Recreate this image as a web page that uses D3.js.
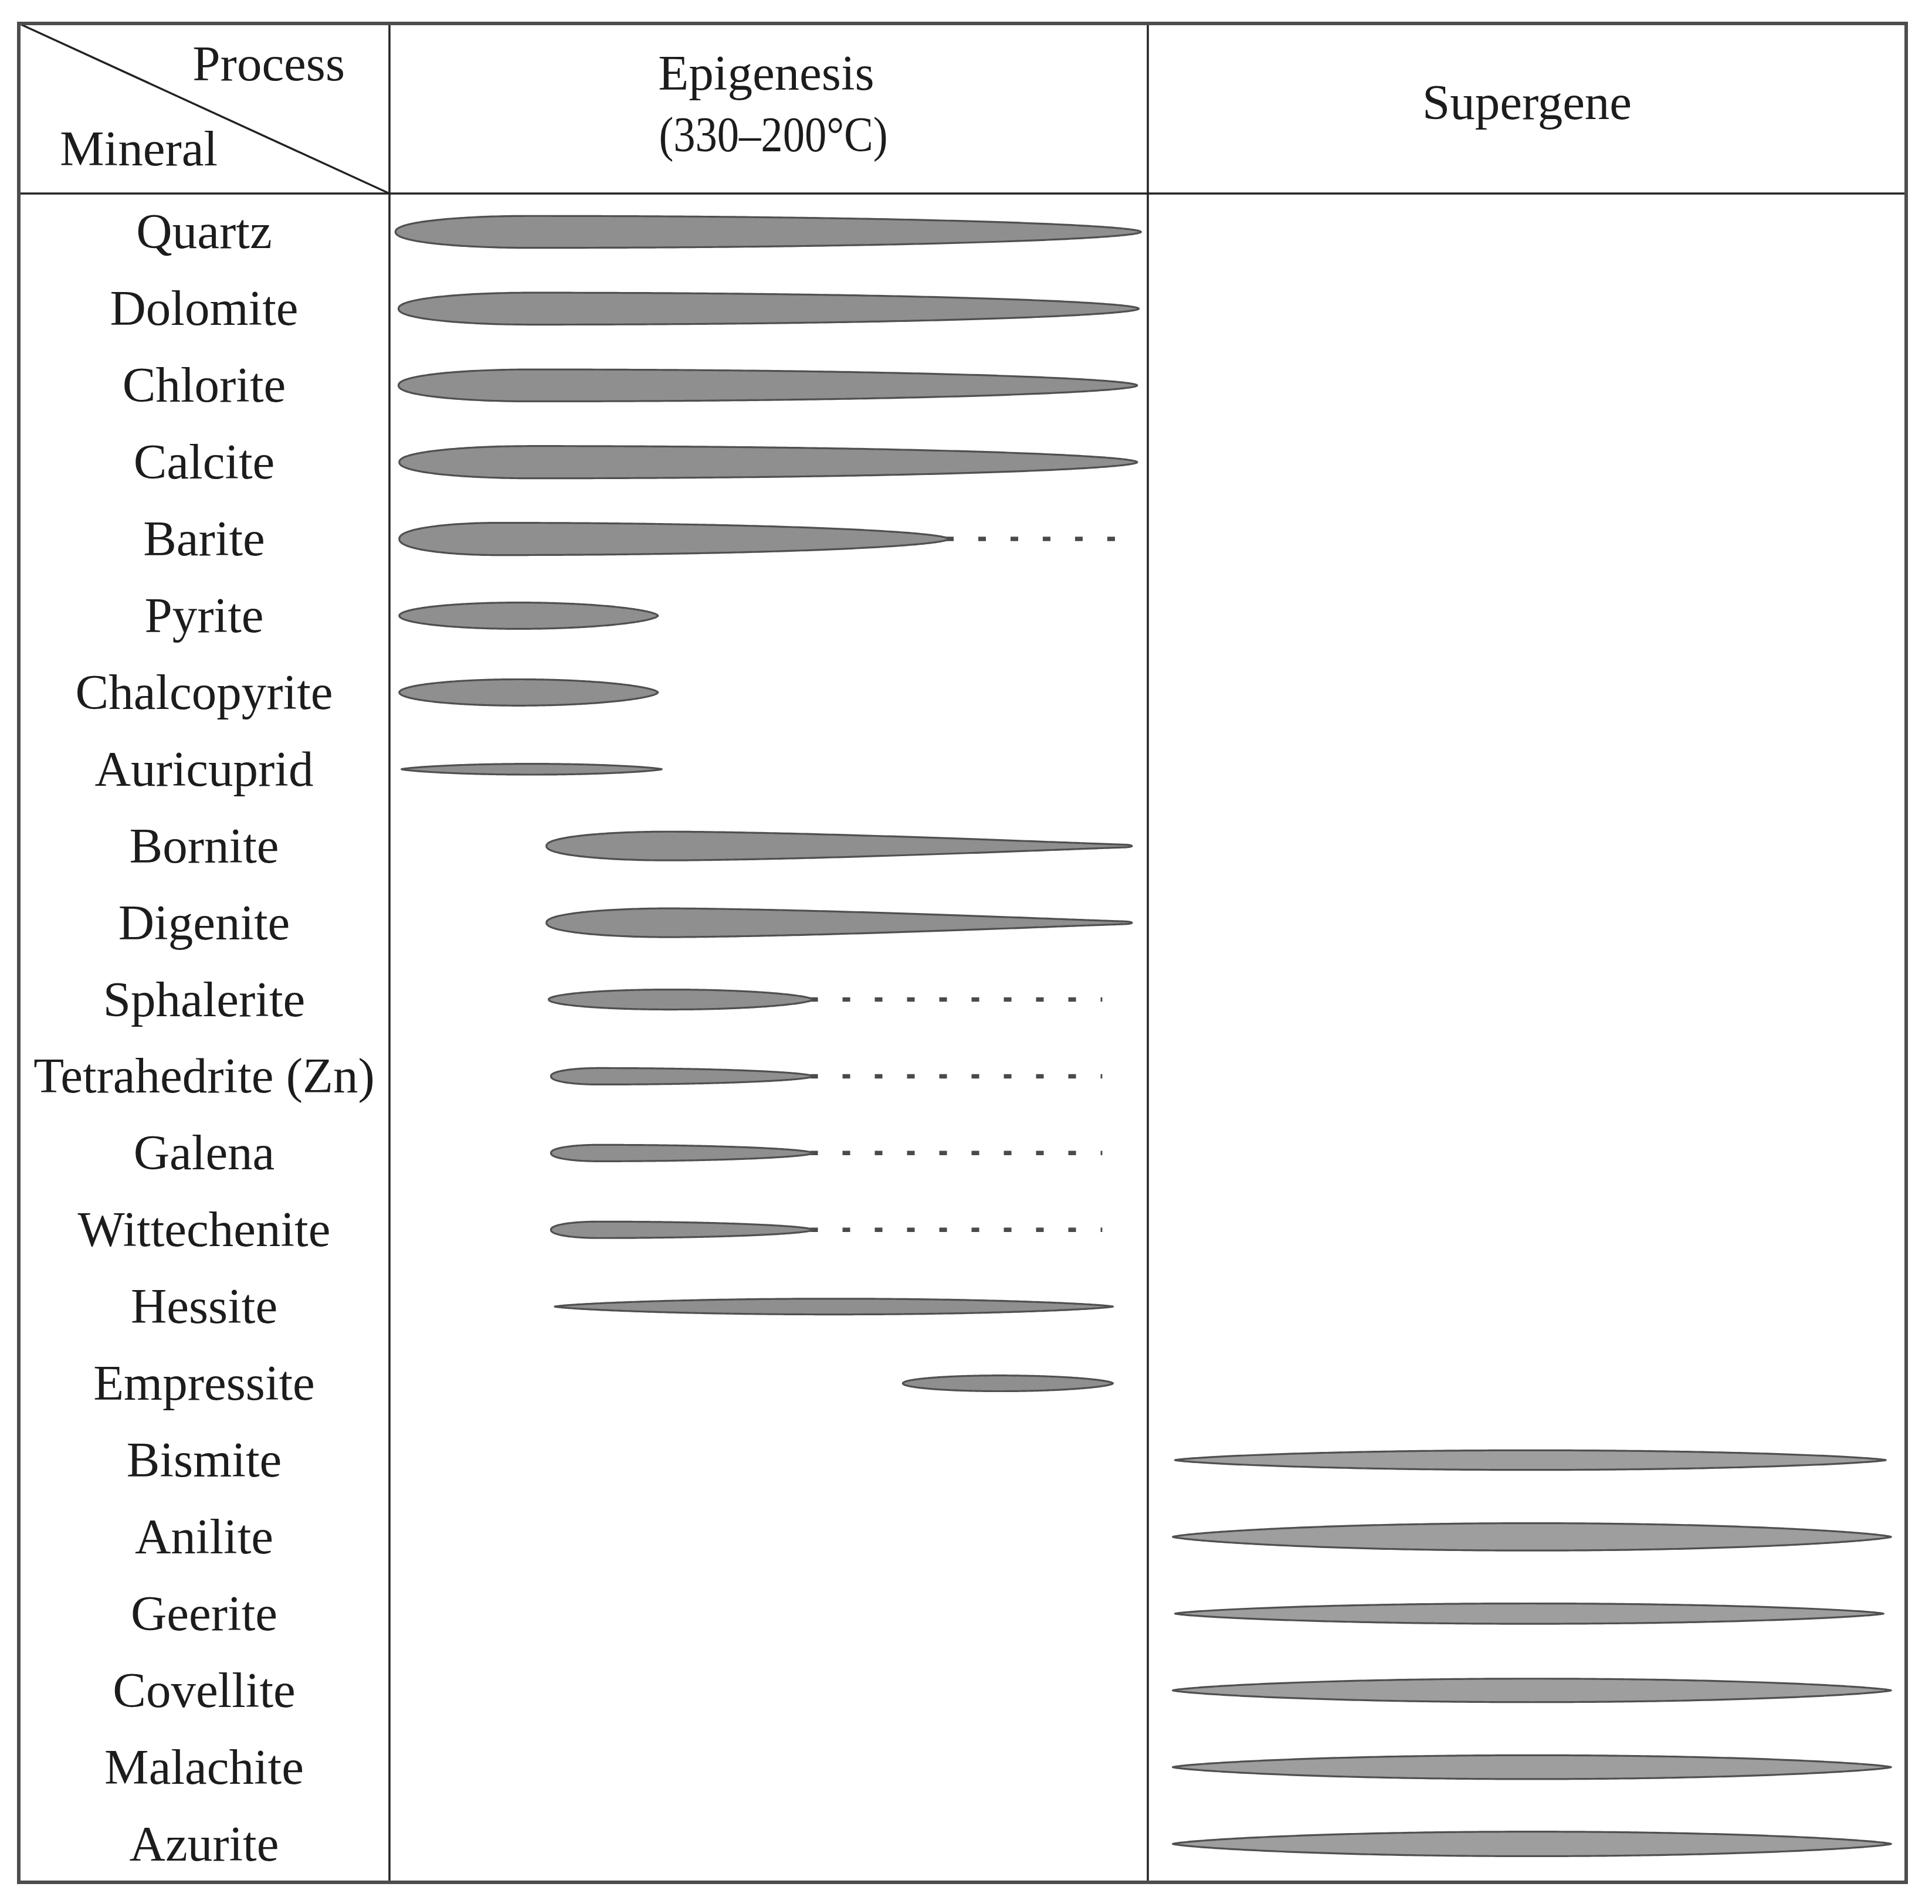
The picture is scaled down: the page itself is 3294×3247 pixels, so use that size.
<!DOCTYPE html>
<html><head><meta charset="utf-8">
<script src="https://cdn.jsdelivr.net/npm/d3@7"></script>
<style>html,body{margin:0;padding:0;background:#fff;} svg{display:block;}</style>
</head><body><svg id="chart"></svg>
<script>
// ---------------- DATA ----------------
const minerals = ["Quartz","Dolomite","Chlorite","Calcite","Barite","Pyrite","Chalcopyrite","Auricuprid",
  "Bornite","Digenite","Sphalerite","Tetrahedrite (Zn)","Galena","Wittechenite","Hessite","Empressite",
  "Bismite","Anilite","Geerite","Covellite","Malachite","Azurite"];
const processes = ["Epigenesis","Supergene"];
const processSub = ["(330\u2013200\u00B0C)", ""];
const processOf = ["Epigenesis","Epigenesis","Epigenesis","Epigenesis","Epigenesis","Epigenesis","Epigenesis","Epigenesis",
  "Epigenesis","Epigenesis","Epigenesis","Epigenesis","Epigenesis","Epigenesis","Epigenesis","Epigenesis",
  "Supergene","Supergene","Supergene","Supergene","Supergene","Supergene"];
// start / end of each mineral within its stage (percent of the stage)
const startPct = [0.8,1.2,1.2,1.3,1.3,1.3,1.3,1.6,20.7,20.7,21.0,21.3,21.3,21.3,21.8,67.7,3.6,3.3,3.6,3.3,3.3,3.3];
const endPct   = [99.1,98.8,98.6,98.6,73.7,35.4,35.4,35.9,97.9,97.9,55.8,55.8,55.8,55.8,95.4,95.4,97.3,98.0,97.0,98.0,98.0,98.0];
// dotted continuation (uncertain occurrence) end, percent of stage
const dottedTo = [null,null,null,null,96.3,null,null,null,null,null,94.0,94.0,94.0,94.0,null,null,null,null,null,null,null,null];
// relative abundance (bar thickness, 0-10)
const abundance = [9.6,9.6,9.6,9.7,9.7,8.0,8.0,3.6,8.7,8.7,6.2,5.2,5.2,5.2,5.0,5.0,6.1,8.3,6.3,7.2,7.3,7.5];
// profile of each bar
const shapeOf = ["blade","blade","blade","blade","blade","oval","oval","spindle","taper","taper","oval","blade","blade","blade",
  "spindle","oval","spindle","spindle","spindle","spindle","spindle","spindle"];

// ---------------- LAYOUT ----------------
const W = 3294, H = 3247;
const L = 32, R = 3250, T = 40, B = 3210, HEAD = 330, LABW = 664;
const font = "'Liberation Serif','Times New Roman',serif";
const fs = 85;

const svg = d3.select("#chart").attr("width", W).attr("height", H);
svg.append("rect").attr("width", W).attr("height", H).attr("fill", "#fff");

const x = d3.scaleBand().domain(processes).range([LABW, R]).padding(0);
const within = d3.scaleLinear().domain([0, 100]).range([0, x.bandwidth()]);
const y = d3.scaleBand().domain(minerals).range([HEAD, B]).padding(0);
const thick = d3.scaleLinear().domain([0, 10]).range([0, 60]);

function tear(t, m, a, b, nose, c) {
  if (t <= m) { const v = (m - t) / m; return Math.pow(Math.max(0, 1 - v * v), nose); }
  const u = (t - m) / (1 - m);
  let h = c + (1 - c) * Math.pow(Math.max(0, 1 - Math.pow(u, a)), b);
  const w = 0.012;
  if (c > 0 && t > 1 - w) { const v = (t - (1 - w)) / w; h = Math.max(h - c, 0) + c * Math.sqrt(Math.max(0, 1 - v * v)); }
  return h;
}
const profiles = {
  blade:   t => tear(t, 0.18, 2, 0.55, 0.45, 0),
  taper:   t => tear(t, 0.21, 1.5, 1.1, 0.45, 0.08),
  oval:    t => tear(t, 0.46, 2, 0.6, 0.5, 0),
  spindle: t => Math.pow(Math.max(0, 1 - (2 * t - 1) * (2 * t - 1)), 0.72)
};

const rows = minerals.map((m, i) => ({
  name: m, proc: processOf[i], s: startPct[i], e: endPct[i], dot: dottedTo[i],
  ab: abundance[i], shape: shapeOf[i]
}));

const sw = 3.2;
const N = 200;
function barPath(d) {
  const x0 = x(d.proc) + within(d.s), x1 = x(d.proc) + within(d.e);
  const cy = y(d.name) + y.bandwidth() / 2;
  const half = (thick(d.ab) - sw) / 2;
  const f = profiles[d.shape];
  const top = [], bot = [];
  for (let i = 0; i <= N; i++) {
    const t = (1 - Math.cos(Math.PI * i / N)) / 2;
    const h = f(t) * half;
    const px = x0 + t * (x1 - x0);
    top.push([px, cy - h]);
    bot.push([px, cy + h]);
  }
  return d3.line()(top.concat(bot.reverse())) + "Z";
}

const fills = { Epigenesis: "#8f8f8f", Supergene: "#9e9e9e" };

// dotted continuations
svg.append("g").selectAll("line").data(rows.filter(d => d.dot != null)).join("line")
  .attr("x1", d => x(d.proc) + within(d.e) - 4)
  .attr("x2", d => x(d.proc) + within(d.dot))
  .attr("y1", d => y(d.name) + y.bandwidth() / 2)
  .attr("y2", d => y(d.name) + y.bandwidth() / 2)
  .attr("stroke", "#4a4a4a").attr("stroke-width", 7.5)
  .attr("stroke-dasharray", "13 42");

// bars
svg.append("g").selectAll("path").data(rows).join("path")
  .attr("d", barPath)
  .attr("fill", d => fills[d.proc])
  .attr("stroke", "#505050").attr("stroke-width", sw).attr("stroke-linejoin", "round");

// row labels
svg.append("g").selectAll("text").data(rows).join("text")
  .attr("x", (L + LABW) / 2)
  .attr("y", d => y(d.name) + y.bandwidth() / 2 + 28)
  .attr("text-anchor", "middle")
  .attr("font-family", font).attr("font-size", fs).attr("fill", "#1c1c1c")
  .text(d => d.name);

// header texts
const hdr = svg.append("g").attr("font-family", font).attr("font-size", fs).attr("fill", "#1c1c1c");
hdr.append("text").attr("x", 588).attr("y", 137).attr("text-anchor", "end").text("Process");
hdr.append("text").attr("x", 102).attr("y", 282).attr("text-anchor", "start").text("Mineral");
processes.forEach((p, i) => {
  const cx = x(p) + x.bandwidth() / 2;
  if (processSub[i]) {
    hdr.append("text").attr("x", cx - 4).attr("y", 153).attr("text-anchor", "middle").text(p);
    hdr.append("text").attr("x", cx + 8).attr("y", 258).attr("text-anchor", "middle")
      .attr("textLength", 390).attr("lengthAdjust", "spacingAndGlyphs").text(processSub[i]);
  } else {
    hdr.append("text").attr("x", cx).attr("y", 203).attr("text-anchor", "middle").text(p);
  }
});

// grid lines
const grid = svg.append("g").attr("stroke", "#222").attr("stroke-width", 3.5);
grid.append("line").attr("x1", L).attr("x2", R).attr("y1", HEAD).attr("y2", HEAD);
processes.forEach(p => {
  grid.append("line").attr("x1", x(p)).attr("x2", x(p)).attr("y1", T).attr("y2", B);
});
grid.append("line").attr("x1", L).attr("y1", T).attr("x2", LABW).attr("y2", HEAD);

// outer frame
svg.append("rect").attr("x", L).attr("y", T).attr("width", R - L).attr("height", B - T)
  .attr("fill", "none").attr("stroke", "#4d4d4d").attr("stroke-width", 6);
</script>
</body></html>
